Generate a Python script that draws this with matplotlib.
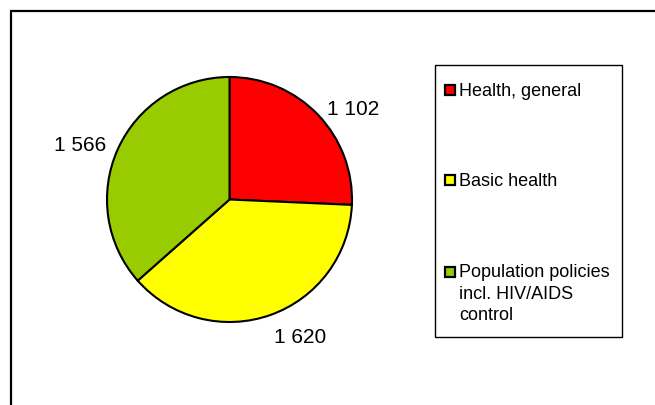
import matplotlib.pyplot as plt
from matplotlib.patches import Rectangle

plt.rcParams['font.family'] = ['Liberation Sans', 'DejaVu Sans']

categories = ["Health, general", "Basic health", "Population policies\nincl. HIV/AIDS\ncontrol"]
values = [1102, 1620, 1566]
colors = ["#FF0000", "#FFFF00", "#99CC00"]
value_labels = ["1 102", "1 620", "1 566"]

W, H = 655, 406
fig = plt.figure(figsize=(W / 100, H / 100), dpi=100)

# overlay in pixel coordinates for frame and legend box
ov = fig.add_axes([0, 0, 1, 1])
ov.set_xlim(0, W)
ov.set_ylim(H, 0)
ov.axis('off')
ov.plot([11, 11, W + 5], [H + 5, 12, 12], color='black', lw=1.6, solid_joinstyle='miter')

# pie
cx, cy, r = 229.5, 200.5, 122.5
ax = fig.add_axes([(cx - r) / W, (H - cy - r) / H, 2 * r / W, 2 * r / H])
wedges, texts = ax.pie(values, colors=colors, labels=value_labels, startangle=90,
                       counterclock=False, labeldistance=1.1,
                       wedgeprops=dict(edgecolor='black', linewidth=1.5),
                       textprops=dict(fontsize=15))
for t in texts:
    x, y = t.get_position()
    if y < -0.5:
        t.set_va('top')
    elif y > 0.5:
        t.set_va('center_baseline')
ax.set_xlim(-1, 1)
ax.set_ylim(-1, 1)
ax.set_aspect('equal')

# legend box
ov.add_patch(Rectangle((435, 65.5), 187, 272, fill=False, edgecolor='black', lw=1.0))
marker_y = [91, 181, 272.5]
for name, col, my in zip(categories, colors, marker_y):
    ov.add_patch(Rectangle((445, my - 5), 10, 10, facecolor=col, edgecolor='black', lw=1.6))
    ov.text(459, my - 8, name, fontsize=13, va='top', ha='left', linespacing=1.32)

fig.savefig("out.png", dpi=100)
